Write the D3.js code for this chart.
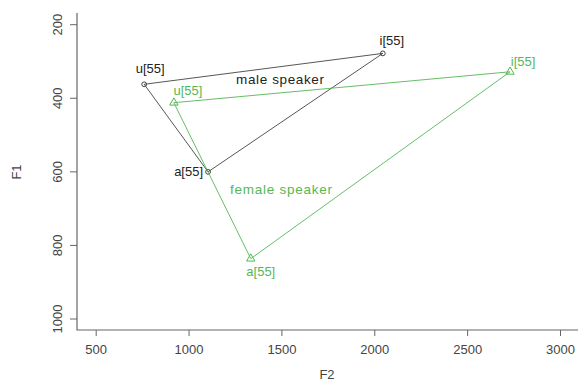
<!DOCTYPE html>
<html>
<head>
<meta charset="utf-8">
<script src="https://cdn.jsdelivr.net/npm/d3@7"></script>
<style>
  body { margin: 0; background: #fff; }
  svg text { font-family: Arial, "Liberation Sans", sans-serif; }
</style>
</head>
<body>
<div id="chart"></div>
<script>
var width = 578;
var height = 383;

// vowel formants (Hz)
let vowels = ["i[55]", "u[55]", "a[55]"];
let maleF2 = [2046, 761, 1105];
let maleF1 = [278, 362, 600];
let femaleF2 = [2731, 921, 1335];
let femaleF1 = [328, 412, 836];

let xTicks = [500, 1000, 1500, 2000, 2500, 3000];
let yTicks = [200, 400, 600, 800, 1000];

let green = "#55b755";
let dark = "#444";

let xScale = d3.scaleLinear().domain([500, 3000]).range([95.7, 560]);
let yScale = d3.scaleLinear().domain([200, 1000]).range([24.7, 319]);

var svg = d3.select("#chart")
            .append("svg")
              .attr("width", width).attr("height", height);

// axes (L-shaped box)
let x0 = 77, yBottom = 330, yTop = 13;
svg.append("path")
    .attr("d", `M${x0},${yTop}V${yBottom}H${width}`)
    .attr("fill", "none").attr("stroke", "#666").attr("stroke-width", 1.2);

let xAxis = d3.axisBottom(xScale).tickValues(xTicks).tickSize(6).tickPadding(9).tickFormat(d3.format("d"));
let gx = svg.append("g").attr("transform", `translate(0,${yBottom})`).call(xAxis);
gx.select(".domain").remove();
gx.selectAll("line").attr("stroke", "#666");
gx.selectAll("text").attr("font-size", 13).attr("fill", "#444");

let yAxis = d3.axisLeft(yScale).tickValues(yTicks).tickSize(7).tickFormat(d3.format("d"));
let gy = svg.append("g").attr("transform", `translate(${x0},0)`).call(yAxis);
gy.select(".domain").remove();
gy.selectAll("line").attr("stroke", "#666");
gy.selectAll("text")
    .attr("font-size", 13).attr("fill", "#444")
    .attr("text-anchor", "middle").attr("dy", null).attr("x", null)
    .attr("transform", d => `translate(-20,${yScale(d)}) rotate(-90)`)
    .attr("y", 0).attr("dominant-baseline", "central");
gy.selectAll(".tick").attr("transform", null);
gy.selectAll(".tick line").attr("transform", d => `translate(0,${yScale(d)})`);

svg.append("text").attr("x", 327).attr("y", 379).attr("text-anchor", "middle")
    .attr("font-size", 13).attr("fill", "#444").text("F2");
svg.append("text").attr("transform", `translate(21,172) rotate(-90)`).attr("text-anchor", "middle")
    .attr("font-size", 13).attr("fill", "#444").text("F1");

function speaker(F2, F1, color, shape) {
    let pts = vowels.map((v, i) => [xScale(F2[i]), yScale(F1[i])]);
    svg.append("path")
        .attr("d", d3.line()(pts) + "Z")
        .attr("fill", "none").attr("stroke", color).attr("stroke-width", 0.9);
    svg.selectAll(null).data(pts).join("path")
        .attr("transform", d => `translate(${d[0]},${d[1]})`)
        .attr("d", d3.symbol().type(shape).size(shape === d3.symbolCircle ? 18 : 30))
        .attr("fill", "none").attr("stroke", color).attr("stroke-width", 1);
    return pts;
}

let mp = speaker(maleF2, maleF1, dark, d3.symbolCircle);
let fp = speaker(femaleF2, femaleF1, green, d3.symbolTriangle);

let labelSize = 13;
// male labels: i above, u above, a left
svg.append("text").attr("x", mp[0][0] + 9).attr("y", mp[0][1] - 8).attr("text-anchor", "middle")
    .attr("font-size", labelSize).attr("fill", "#222").text(vowels[0]);
svg.append("text").attr("x", mp[1][0] + 6).attr("y", mp[1][1] - 11).attr("text-anchor", "middle")
    .attr("font-size", labelSize).attr("fill", "#222").text(vowels[1]);
svg.append("text").attr("x", mp[2][0] - 5).attr("y", mp[2][1] + 4).attr("text-anchor", "end")
    .attr("font-size", labelSize).attr("fill", "#222").text(vowels[2]);
svg.append("text").attr("x", 236).attr("y", 84)
    .attr("font-size", 13.5).attr("textLength", 88).attr("fill", "#222").text("male speaker");

// female labels
svg.append("text").attr("x", fp[0][0] + 13).attr("y", fp[0][1] - 6).attr("text-anchor", "middle")
    .attr("font-size", labelSize).attr("fill", green).text(vowels[0]);
svg.append("text").attr("x", fp[1][0] + 14).attr("y", fp[1][1] - 8).attr("text-anchor", "middle")
    .attr("font-size", labelSize).attr("fill", green).text(vowels[1]);
svg.append("text").attr("x", fp[2][0] + 10).attr("y", fp[2][1] + 17).attr("text-anchor", "middle")
    .attr("font-size", labelSize).attr("fill", green).text(vowels[2]);
svg.append("text").attr("x", 230).attr("y", 194)
    .attr("font-size", 13.5).attr("textLength", 102).attr("fill", green).text("female speaker");
</script>
</body>
</html>
